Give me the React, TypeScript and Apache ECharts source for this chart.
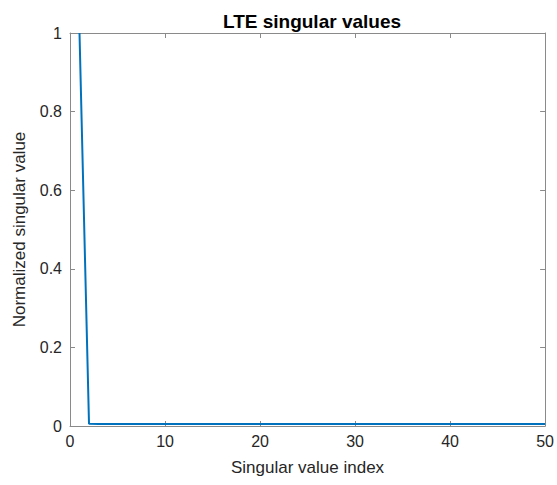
import React, { useEffect, useRef } from "react";
import * as echarts from "echarts";

// Singular value indices 1..50 and their normalized magnitudes
const indices: number[] = Array.from({ length: 50 }, (_, i) => i + 1);
const singularValues: number[] = [
  1, 0.006, 0.005, 0.005, 0.005, 0.005, 0.005, 0.005, 0.005, 0.005,
  0.005, 0.005, 0.005, 0.005, 0.005, 0.005, 0.005, 0.005, 0.005, 0.005,
  0.005, 0.005, 0.005, 0.005, 0.005, 0.005, 0.005, 0.005, 0.005, 0.005,
  0.005, 0.005, 0.005, 0.005, 0.005, 0.005, 0.005, 0.005, 0.005, 0.005,
  0.005, 0.005, 0.005, 0.005, 0.005, 0.005, 0.005, 0.005, 0.005, 0.005,
];
const xTicks = { min: 0, max: 50, interval: 10 };
const yTicks = { min: 0, max: 1, interval: 0.2 };

const FONT = "'Liberation Sans', Arial, Helvetica, sans-serif";
const AXIS_COLOR = "#8a8a8a";
const TEXT_COLOR = "#262626";

export default function App() {
  const ref = useRef<HTMLDivElement>(null);
  useEffect(() => {
    if (!ref.current) return;
    const chart = echarts.init(ref.current, undefined, { renderer: "svg" });
    const line = { lineStyle: { color: AXIS_COLOR, width: 1 } };
    chart.setOption({
      animation: false,
      backgroundColor: "#ffffff",
      title: {
        text: "LTE singular values",
        left: 307,
        textAlign: "center",
        top: 7,
        textStyle: { fontFamily: FONT, fontSize: 19, fontWeight: "bold", color: "#000" },
      },
      grid: { left: 70, right: 11, top: 33, bottom: 59 },
      xAxis: [
        {
          type: "value",
          ...xTicks,
          position: "bottom",
          name: "Singular value index",
          nameLocation: "middle",
          nameGap: 33,
          nameTextStyle: { fontFamily: FONT, fontSize: 17, color: TEXT_COLOR },
          axisLine: { show: true, onZero: false, ...line },
          axisTick: { show: true, inside: true, length: 5, ...line },
          axisLabel: { fontFamily: FONT, fontSize: 16, color: TEXT_COLOR, margin: 7 },
          splitLine: { show: false },
        },
        {
          type: "value",
          ...xTicks,
          position: "top",
          axisLine: { show: true, onZero: false, ...line },
          axisTick: { show: true, inside: true, length: 5, ...line },
          axisLabel: { show: false },
          splitLine: { show: false },
        },
      ],
      yAxis: [
        {
          type: "value",
          ...yTicks,
          position: "left",
          name: "Normalized singular value",
          nameLocation: "middle",
          nameGap: 42,
          nameTextStyle: { fontFamily: FONT, fontSize: 17, color: TEXT_COLOR },
          axisLine: { show: true, onZero: false, ...line },
          axisTick: { show: true, inside: true, length: 5, ...line },
          axisLabel: { fontFamily: FONT, fontSize: 16, color: TEXT_COLOR, margin: 8 },
          splitLine: { show: false },
        },
        {
          type: "value",
          ...yTicks,
          position: "right",
          axisLine: { show: true, onZero: false, ...line },
          axisTick: { show: true, inside: true, length: 5, ...line },
          axisLabel: { show: false },
          splitLine: { show: false },
        },
      ],
      series: [
        {
          type: "line",
          xAxisIndex: 0,
          yAxisIndex: 0,
          data: indices.map((x, i) => [x, singularValues[i]]),
          showSymbol: false,
          symbol: "none",
          lineStyle: { color: "#0072BD", width: 2 },
          clip: true,
        },
      ],
    });
    return () => chart.dispose();
  }, []);
  return (
    <div
      ref={ref}
      style={{ position: "fixed", left: 0, top: 0, width: 557, height: 485 }}
    />
  );
}
